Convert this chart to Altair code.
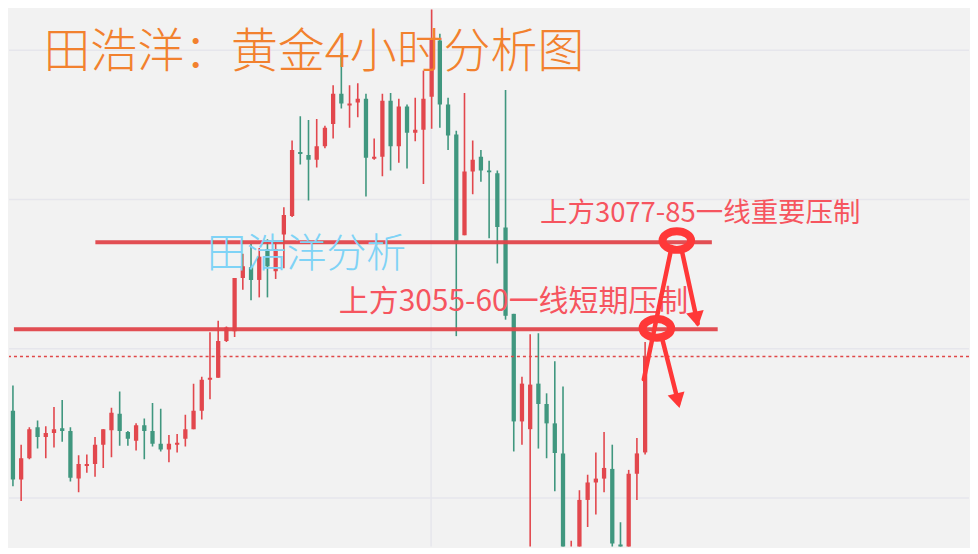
import altair as alt
import pandas as pd

# ---- candle data (4h gold) ----
opens = [3035, 3017.25, 3022.75, 3030.75, 3028.25, 3029.25, 3030.5, 3029.75, 3017.5, 3020.75,
         3021.25, 3026.25, 3030, 3034.25, 3029.5, 3027.25, 3031.25, 3029.75, 3026.5, 3025,
         3026.25, 3027.75, 3030.25, 3035, 3043, 3043.5, 3053, 3055.5, 3069.25, 3072,
         3068.75, 3076.75, 3071, 3080.5, 3085.25, 3101.75, 3101, 3099.75, 3103.25, 3109,
         3116.75, 3113.75, 3114.5, 3115.5, 3100, 3100.5, 3115, 3103.25, 3113.5, 3106.75,
         3107.5, 3116, 3130.5, 3114, 3106.25, 3080.25, 3096.75, 3100.5, 3097, 3096.25,
         3082.25, 3060, 3032.25, 3030.25, 3042, 3036.75, 3031.75, 3024, 2985, 2993,
         3012, 3016.5, 3017.5, 3020, 3000.5, 2996, 3018.75, 3024.25]
highs = [3041.5, 3026.25, 3030.75, 3032.5, 3031, 3036, 3037.75, 3030.75, 3023.5, 3023.75,
         3028.25, 3030.25, 3035.75, 3040, 3029.75, 3031.75, 3033, 3037, 3035.5, 3028.75,
         3029, 3034, 3042, 3043.75, 3055.25, 3058.25, 3056.75, 3069.25, 3075.5, 3078,
         3077, 3079.25, 3078.5, 3087.5, 3104.75, 3111, 3110, 3110.25, 3108.5, 3119,
         3127.25, 3119, 3119.5, 3116.75, 3105.25, 3116.75, 3117, 3115.5, 3114, 3115.75,
         3122.75, 3141, 3132.25, 3115.75, 3107.25, 3117, 3104.75, 3102.25, 3099.5, 3097,
         3117.75, 3060, 3043.75, 3054.75, 3055, 3039.5, 3047.75, 3041.25, 3001.5, 3014.5,
         3018.5, 3024.25, 3029.5, 3026.25, 3006.25, 3019.75, 3028, 3052.75]
lows = [3015.5, 3011.75, 3022.5, 3025.25, 3022.75, 3025.5, 3027, 3016.75, 3014, 3019,
        3018, 3020.25, 3023, 3026, 3026, 3024.75, 3022.5, 3025.75, 3024.5, 3021.75,
        3024.25, 3025.75, 3030.25, 3032.75, 3038, 3043.5, 3052.75, 3054, 3066.25, 3063.5,
        3064.25, 3064.25, 3069, 3071.75, 3085, 3098.5, 3089.25, 3097.75, 3102.75, 3105.25,
        3113, 3108, 3110.75, 3090.25, 3099.75, 3095.5, 3097, 3099, 3097.5, 3104.5,
        3093.5, 3107.75, 3108, 3102.25, 3054.25, 3080.25, 3090.85, 3094.1, 3079.5, 3073,
        3058.5, 3024.5, 3026.25, 2985, 3025.25, 3022.75, 3014.25, 2980, 2980, 2985,
        3005, 3008.25, 3014, 2999, 2990, 2990, 3012, 3023.75]
closes = [3017.25, 3022.75, 3030.25, 3028.25, 3029.25, 3030.25, 3029.75, 3017.75, 3021.25, 3021.25,
          3026.25, 3030.25, 3034.5, 3029.75, 3027.75, 3031.25, 3029.75, 3026.5, 3025, 3026.5,
          3026.75, 3030.25, 3035, 3043, 3043.5, 3053, 3056.5, 3069.25, 3072.25, 3068.75,
          3074.75, 3072.25, 3076.75, 3085.5, 3102.25, 3101.25, 3099.75, 3103.25, 3108, 3116.75,
          3114.25, 3114.25, 3115.5, 3100.25, 3100.5, 3115, 3103.25, 3113.5, 3106.75, 3107.5,
          3115.5, 3130.75, 3114, 3106, 3078.5, 3096.75, 3099.75, 3097, 3096.5, 3082.4,
          3059.5, 3032.25, 3042, 3041.75, 3036.75, 3031.75, 3024.1, 2990, 2995, 3012,
          3016.5, 3017.5, 3020.25, 3000.75, 2994, 3018.75, 3024, 3049]

grid_prices = [3128, 3089.5, 3051, 3012.5]
grid_index = [50.93]
level_prices = [3078.5, 3056]
level_start = [10.04, 0.12]
level_end = [85.13, 85.84]

title_text = "田浩洋：黄金4小时分析图"
watermark_text = "田浩洋分析"
label_upper = "上方3077-85一线重要压制"
label_lower = "上方3055-60一线短期压制"

RED = "#e2474d"
GREEN = "#40977f"
LINE_RED = "#e0444a"
ARROW = "#ff3838"

n = len(opens)
df = pd.DataFrame({"i": list(range(n)), "open": opens, "high": highs,
                   "low": lows, "close": closes})
df["dir"] = ["up" if c >= o else "down" for o, c in zip(opens, closes)]

xs = alt.Scale(domain=[-0.48, 116.45], nice=False, zero=False)
ys = alt.Scale(domain=[3000, 3138.5], nice=False, zero=False)


def X(f):
    return alt.X(f, type="quantitative", scale=xs, axis=None)


def Y(f):
    return alt.Y(f, type="quantitative", scale=ys, axis=None)


color = alt.Color("dir:N", scale=alt.Scale(domain=["up", "down"], range=[RED, GREEN]), legend=None)

grid_h = alt.Chart(pd.DataFrame({"p": grid_prices})).mark_rule(
    color="#e6e6ec", strokeWidth=1.5).encode(y=Y("p"))
grid_v = alt.Chart(pd.DataFrame({"i": grid_index})).mark_rule(
    color="#e6e6ec", strokeWidth=1.5).encode(x=X("i"))

base = alt.Chart(df)
wicks = base.mark_rule(strokeWidth=1.6, clip=True).encode(
    x=X("i"), y=Y("low"), y2="high", color=color)
bodies = base.mark_rule(strokeWidth=4.3, clip=True, strokeCap="butt").encode(
    x=X("i"), y=Y("open"), y2="close", color=color)

last_line = alt.Chart(pd.DataFrame({"p": [closes[-1]]})).mark_rule(
    color="#e04848", strokeWidth=1.5, strokeDash=[3, 3]).encode(y=Y("p"))

levels = alt.Chart(pd.DataFrame({"x1": level_start, "x2": level_end, "p": level_prices})).mark_rule(
    color=LINE_RED, strokeWidth=4, opacity=0.95).encode(x=X("x1"), x2="x2", y=Y("p"))

arrows = alt.Chart(pd.DataFrame({
    "x1": [76.84, 81.42, 79.03],
    "y1": [3043.1, 3076.8, 3054.0],
    "x2": [80.23, 83.40, 81.06],
    "y2": [3077.25, 3057.5, 3037.0],
})).mark_rule(color=ARROW, strokeWidth=4.5, strokeCap="round").encode(
    x=X("x1"), y=Y("y1"), x2="x2", y2="y2")

head_b = alt.Chart(pd.DataFrame({"x": [83.25], "y": [3058.6]})).mark_point(
    shape="triangle-down", filled=True, size=320, color=ARROW, opacity=1, angle=348.7).encode(
    x=X("x"), y=Y("y"))
head_c = alt.Chart(pd.DataFrame({"x": [80.98], "y": [3037.6]})).mark_point(
    shape="triangle-down", filled=True, size=300, color=ARROW, opacity=1, angle=346.7).encode(
    x=X("x"), y=Y("y"))

ellipse_path = "M -1 0 A 1 0.65 0 1 1 1 0 A 1 0.65 0 1 1 -1 0 Z"
ellipses = alt.Chart(pd.DataFrame({"x": [80.86, 78.43], "y": [3078.9, 3056.25]})).mark_point(
    shape=ellipse_path, filled=False, size=820, stroke=ARROW, strokeWidth=8, opacity=1).encode(
    x=X("x"), y=Y("y"))

title = alt.Chart(pd.DataFrame({"x": [3.71], "y": [3127.3], "t": [title_text]})).mark_text(
    align="left", baseline="middle", font="Noto Sans CJK SC", fontSize=47, fontWeight=300,
    color="#f2812e").encode(x=X("x"), y=Y("y"), text="t:N")

watermark = alt.Chart(pd.DataFrame({"x": [23.6], "y": [3075.25], "t": [watermark_text]})).mark_text(
    align="left", baseline="middle", font="Noto Sans CJK SC", fontSize=40, fontWeight=300,
    color="#7fd3f6").encode(x=X("x"), y=Y("y"), text="t:N")

labels = alt.Chart(pd.DataFrame({
    "x": [64.2, 39.69], "y": [3085.75, 3063.0], "t": [label_upper, label_lower],
    "s": [27.5, 30]})).mark_text(
    align="left", baseline="middle", font="Noto Sans CJK SC",
    color="#f6555f").encode(x=X("x"), y=Y("y"), text="t:N",
                            size=alt.Size("s:Q", scale=None, legend=None))

chart = alt.layer(
    grid_h, grid_v, wicks, bodies, last_line, levels, watermark, labels,
    arrows, head_b, head_c, ellipses, title
).properties(
    width=962, height=538, padding=0, background="#f2f2f2"
).configure_view(stroke=None)

chart.save("out.html", embed_options={"renderer": "svg", "actions": False})
